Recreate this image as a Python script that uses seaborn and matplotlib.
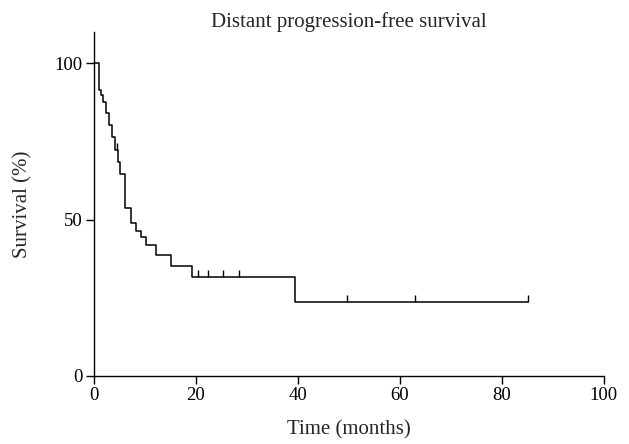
import matplotlib
matplotlib.use("Agg")
import matplotlib.pyplot as plt
from matplotlib.path import Path
import seaborn as sns
import numpy as np
import pandas as pd

# Kaplan-Meier step curve: time (months) and survival (%) after each drop
step_time = [0, 1.04, 1.37, 1.7, 2.29, 2.94, 3.47, 4.04, 4.76, 5.1, 6.08,
             7.25, 8.24, 9.16, 10.2, 12.16, 15.2, 19.3, 39.5, 85.2]
step_surv = [100, 91.6, 89.9, 87.7, 84.0, 80.3, 76.4, 72.1, 68.4, 64.6, 53.8,
             48.9, 46.4, 44.3, 41.7, 38.7, 35.0, 31.5, 23.7, 23.7]

# censored observations (months)
censor_time = [4.45, 20.45, 22.4, 25.35, 28.5, 49.7, 62.9, 85.2]

x_ticks = [0, 20, 40, 60, 80, 100]
y_ticks = [0, 50, 100]

curve = pd.DataFrame({"time": step_time, "surv": step_surv})
idx = np.searchsorted(step_time, censor_time, side="right") - 1
censored = pd.DataFrame({"time": censor_time,
                         "surv": np.array(step_surv)[idx]})

sns.set_style("ticks")
plt.rcParams["font.family"] = ["Liberation Serif", "DejaVu Serif"]

fig = plt.figure(figsize=(6.29, 4.44), dpi=100)
ax = fig.add_axes([0.1494, 0.1538, 0.8108, 0.7739])

sns.lineplot(data=curve, x="time", y="surv", drawstyle="steps-post",
             estimator=None, color="black", linewidth=1.1, ax=ax)

# tick mark pointing up from the curve
up_tick = Path([(0, 0), (0, 1)], [Path.MOVETO, Path.LINETO])
sns.scatterplot(data=censored, x="time", y="surv", marker=up_tick, s=110,
                color="black", edgecolor="black", linewidth=1.0, ax=ax,
                zorder=3)

ax.set_xlim(0, 100)
ax.set_ylim(0, 110)
ax.set_xticks(x_ticks)
ax.set_yticks(y_ticks)
ax.tick_params(axis="both", direction="out", length=6, width=1,
               colors="black", labelsize=13.5, pad=2)
for side in ["top", "right"]:
    ax.spines[side].set_visible(False)
for side in ["left", "bottom"]:
    ax.spines[side].set_linewidth(1)
    ax.spines[side].set_color("black")

ax.set_xlabel("Time (months)", fontsize=15, labelpad=12)
ax.set_ylabel("Survival (%)", fontsize=15, labelpad=16)
ax.set_title("Distant progression-free survival", fontsize=15, pad=2)

fig.savefig("out.png", dpi=100)
